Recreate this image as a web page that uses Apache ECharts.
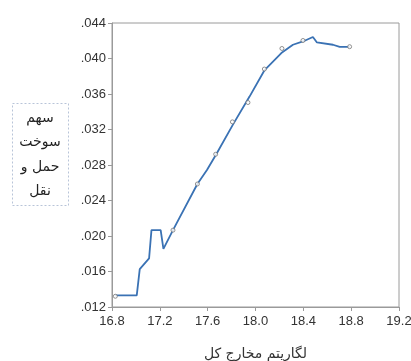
<!DOCTYPE html>
<html><head><meta charset="utf-8">
<script src="https://cdn.jsdelivr.net/npm/echarts@6/dist/echarts.min.js"></script>
<style>html,body{margin:0;padding:0;background:#fff}#c{width:411px;height:361px}</style>
</head><body><div id="c"></div>
<script>
var xTicks = [16.8, 17.2, 17.6, 18.0, 18.4, 18.8, 19.2];
var yTicks = [0.012, 0.016, 0.020, 0.024, 0.028, 0.032, 0.036, 0.040, 0.044];
var lineX = [16.828, 17.007, 17.032, 17.11, 17.13, 17.207, 17.23, 17.31, 17.514, 17.594, 17.673, 17.81, 17.95, 18.074, 18.216, 18.313, 18.397, 18.48, 18.514, 18.648, 18.704, 18.787];
var lineY = [0.0133, 0.0133, 0.01626, 0.01747, 0.02066, 0.02066, 0.01855, 0.02066, 0.02586, 0.02744, 0.02924, 0.03252, 0.03571, 0.03865, 0.04061, 0.04155, 0.04192, 0.04242, 0.04181, 0.04155, 0.0413, 0.0413];
var pointX = [16.828, 17.31, 17.514, 17.667, 17.807, 17.937, 18.074, 18.221, 18.397, 18.787];
var pointY = [0.01321, 0.02066, 0.02586, 0.02921, 0.03286, 0.03504, 0.03881, 0.04113, 0.04203, 0.04133];
var xTitle = 'لگاریتم مخارج کل';
var legendLines = ['سهم', 'سوخت', 'حمل و', 'نقل'];

var chart = echarts.init(document.getElementById('c'), null, {renderer: 'canvas'});
var lineData = lineX.map(function (x, i) { return [x, lineY[i]]; });
var pointData = pointX.map(function (x, i) { return [x, pointY[i]]; });
var axisColor = '#9a9a9a';
chart.setOption({
  animation: false,
  grid: {left: 112, right: 12, top: 23, bottom: 54, show: true, borderColor: axisColor, borderWidth: 1,
    containLabel: false, outerBoundsMode: 'none'},
  xAxis: {
    type: 'value', min: xTicks[0], max: xTicks[xTicks.length - 1], interval: 0.4,
    splitLine: {show: false},
    axisLine: {show: true, lineStyle: {color: axisColor}},
    axisTick: {show: true, length: 4, lineStyle: {color: axisColor}},
    axisLabel: {color: '#333', fontSize: 13, fontFamily: 'Liberation Sans', margin: 8,
      formatter: function (v) { return v.toFixed(1); }},
    name: xTitle, nameLocation: 'middle', nameGap: 40,
    nameTextStyle: {color: '#333', fontSize: 14, fontFamily: 'DejaVu Sans'}
  },
  yAxis: {
    type: 'value', min: yTicks[0], max: yTicks[yTicks.length - 1], interval: 0.004,
    splitLine: {show: false},
    axisLine: {show: true, lineStyle: {color: axisColor}},
    axisTick: {show: true, length: 4, lineStyle: {color: axisColor}},
    axisLabel: {color: '#333', fontSize: 13, fontFamily: 'Liberation Sans', margin: 6,
      formatter: function (v) { return '.' + v.toFixed(3).split('.')[1]; }}
  },
  graphic: [
    {type: 'rect', left: 12, top: 103, shape: {width: 56, height: 102},
      style: {fill: '#fff', stroke: '#b8c4d8', lineWidth: 1, lineDash: [2, 2]}}
  ].concat(legendLines.map(function (t, i) {
    return {type: 'text', x: 40, y: 118 + i * 24.5,
      style: {text: t, fill: '#222', font: '14px "DejaVu Sans"', align: 'center', verticalAlign: 'middle'}};
  })),
  series: [
    {type: 'line', data: lineData, showSymbol: false, symbol: 'none',
      lineStyle: {color: '#3a72b4', width: 1.8}, z: 2},
    {type: 'scatter', data: pointData, symbol: 'circle', symbolSize: 4,
      itemStyle: {color: '#fff', borderColor: '#777', borderWidth: 1}, z: 3}
  ]
});
</script></body></html>
